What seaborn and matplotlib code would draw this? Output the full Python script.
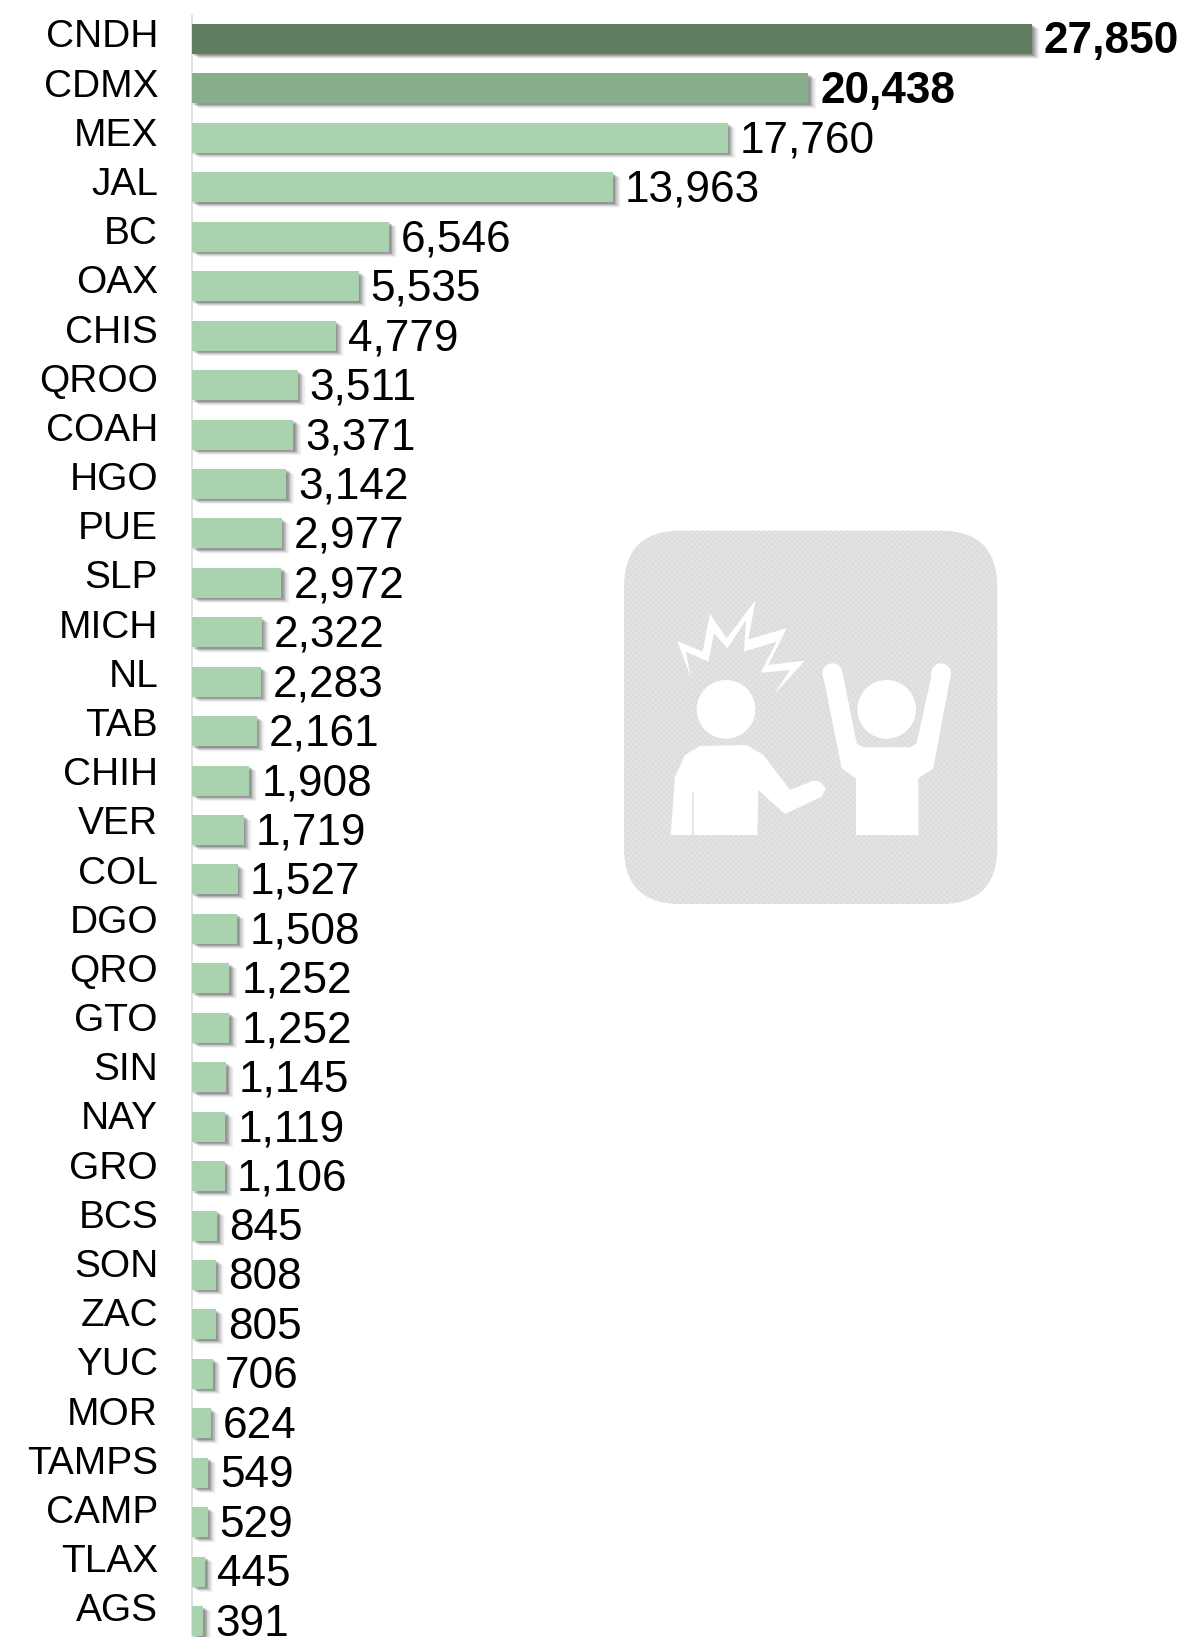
import matplotlib
matplotlib.use("Agg")
import matplotlib.pyplot as plt
import matplotlib.patheffects as pe
from matplotlib.patches import Circle, FancyBboxPatch, Polygon
from matplotlib.transforms import ScaledTranslation
import pandas as pd
import seaborn as sns

states = ["CNDH", "CDMX", "MEX", "JAL", "BC", "OAX", "CHIS", "QROO", "COAH", "HGO", "PUE",
          "SLP", "MICH", "NL", "TAB", "CHIH", "VER", "COL", "DGO", "QRO", "GTO", "SIN",
          "NAY", "GRO", "BCS", "SON", "ZAC", "YUC", "MOR", "TAMPS", "CAMP", "TLAX", "AGS"]
values = [27850, 20438, 17760, 13963, 6546, 5535, 4779, 3511, 3371, 3142, 2977,
          2972, 2322, 2283, 2161, 1908, 1719, 1527, 1508, 1252, 1252, 1145,
          1119, 1106, 845, 808, 805, 706, 624, 549, 529, 445, 391]
tiers = ["top", "second"] + ["rest"] * 31
tier_colors = {"top": "#5f7d61", "second": "#88ad8a", "rest": "#a9d2ae"}

W, H = 1187, 1637
PX = 72 / 100  # points per pixel at dpi 100

sns.set_theme(style="white")
plt.rcParams['font.family'] = ['Liberation Sans', 'DejaVu Sans']
plt.rcParams['hatch.linewidth'] = 0.4

df = pd.DataFrame({"state": states, "value": values, "tier": tiers})

fig = plt.figure(figsize=(W / 100, H / 100), dpi=100)
ax = fig.add_axes([191.7 / W, 0, (W - 191.7) / W, (H - 15) / H])

sns.barplot(data=df, x="value", y="state", hue="tier", hue_order=["top", "second", "rest"],
            palette=tier_colors, dodge=False, width=30 / 49.44, saturation=1, legend=False,
            linewidth=0, ax=ax)

ax.set_xlim(0, (W - 191.7) / 0.03017)
ax.set_ylim((H - 39) / 49.44, -(39 - 15) / 49.44)
ax.set_xlabel("")
ax.set_ylabel("")
ax.xaxis.set_visible(False)
sns.despine(ax=ax, top=True, right=True, bottom=True)
ax.spines['left'].set_color("#dcdcdc")
ax.spines['left'].set_linewidth(1.6 * PX)
ax.spines['left'].set_zorder(0.5)

# soft drop shadow under the bars, stacked from wide and faint to tight and dark
layers = [(8.0, 5.5, 0.02), (7.2, 5.0, 0.03), (6.4, 4.5, 0.04), (5.6, 4.0, 0.05), (4.8, 3.5, 0.06),
          (4.0, 3.0, 0.08), (3.2, 2.5, 0.09), (2.4, 2.0, 0.10), (1.6, 1.5, 0.10)]
shadow = [pe.SimplePatchShadow(offset=(dx * PX, -dy * PX), shadow_rgbFace="k", alpha=a)
          for dx, dy, a in layers]
shadow.append(pe.Normal())
for bars in ax.containers:
    for bar in bars:
        bar.set_path_effects(shadow)

# value labels
for bars, level in zip(ax.containers, ["top", "second", "rest"]):
    vals = [v for v, t in zip(values, tiers) if t == level]
    texts = ax.bar_label(bars, labels=[f"{v:,}" for v in vals], padding=12 * PX, fontsize=31.8,
                         fontweight="bold" if level != "rest" else "normal", color="black")
    for t in texts:
        t.xyann = (12 * PX, -3 * PX)

# state labels sit above the bar centre, a little more on each row
ax.tick_params(axis="y", length=0, pad=(191.7 - 158) * PX, labelsize=28, labelcolor="black")
for i, lab in enumerate(ax.get_yticklabels()):
    lab.set_transform(lab.get_transform() + ScaledTranslation(0, (5.5 + 0.26 * i) / 100, fig.dpi_scale_trans))

# icon, drawn in the 3x pixel grid of its own crop
icon = fig.add_axes([600 / W, 1 - 920 / H, 420 / W, 410 / H])
icon.set_xlim(0, 1260)
icon.set_ylim(1230, 0)
icon.axis("off")
r = 170
icon.add_patch(FancyBboxPatch((72 + r, 62 + r), 1120 - 2 * r, 1120 - 2 * r,
                              boxstyle=f"round,pad={r},rounding_size={r}",
                              fc="#e3e3e3", ec="#d9d9d9", lw=0, hatch="xxxxxx"))
icon.add_patch(Circle((378, 598), 88, fc="white", ec="none"))
icon.add_patch(Circle((860, 598), 88, fc="white", ec="none"))
icon.add_patch(Circle((697, 490), 30, fc="white", ec="none"))
icon.add_patch(Circle((1023, 490), 30, fc="white", ec="none"))
spark = [(232, 393), (308, 425), (330, 312), (380, 385), (467, 270), (445, 388), (560, 355),
         (505, 465), (615, 452), (522, 553), (570, 480), (482, 488), (530, 395), (432, 425),
         (438, 330), (382, 415), (342, 370), (325, 455), (258, 425), (272, 500)]
left_body = [(212, 975), (225, 800), (255, 735), (300, 708), (440, 705), (490, 735), (570, 840),
             (640, 812), (660, 815), (678, 835), (665, 860), (555, 912), (475, 840), (472, 975)]
right_body = [(668, 490), (728, 490), (770, 700), (790, 712), (930, 712),
              (950, 700), (998, 480), (1052, 495), (1000, 775),
              (955, 805), (955, 975), (768, 975), (768, 805), (725, 775)]
for pts in [spark, left_body, right_body]:
    icon.add_patch(Polygon(pts, closed=True, fc="white", ec="none"))
icon.plot([278, 278], [850, 975], color="#e1e1e1", lw=1.2)

fig.savefig("out.png", dpi=100)
